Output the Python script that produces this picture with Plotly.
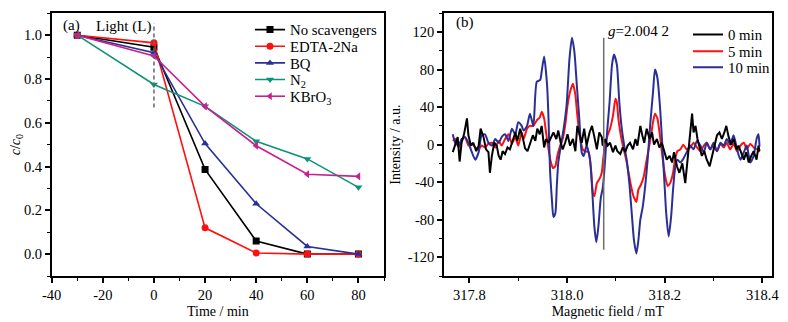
import plotly.graph_objects as go

# ---------------- Panel (a) data ----------------
time_min = [-30, 0, 20, 40, 60, 80]
no_scav = [1.0, 0.945, 0.387, 0.06, 0.0, 0.0]
edta = [1.0, 0.965, 0.12, 0.005, 0.0, 0.0]
bq = [1.0, 0.92, 0.505, 0.23, 0.035, 0.0]
n2 = [1.0, 0.775, 0.675, 0.515, 0.435, 0.305]
kbro3 = [1.0, 0.905, 0.675, 0.495, 0.365, 0.355]

time_ticks = [-40, -20, 0, 20, 40, 60, 80]
time_ticktext = ["-40", "-20", "0", "20", "40", "60", "80"]

# ---------------- Panel (b) data ----------------
field_0 = [317.766, 317.771, 317.776, 317.780, 317.784, 317.789, 317.795, 317.798, 317.803, 317.808,
           317.814, 317.819, 317.823, 317.829, 317.834, 317.839, 317.842, 317.846, 317.851, 317.856,
           317.860, 317.864, 317.868, 317.873, 317.878, 317.883, 317.889, 317.894, 317.898, 317.904,
           317.909, 317.914, 317.919, 317.924, 317.930, 317.935, 317.939, 317.944, 317.948, 317.953,
           317.957, 317.962, 317.967, 317.972, 317.978, 317.982, 317.987, 317.991, 317.996, 318.001,
           318.006, 318.012, 318.017, 318.021, 318.026, 318.030, 318.035, 318.040, 318.046, 318.051,
           318.056, 318.061, 318.066, 318.071, 318.073, 318.078, 318.083, 318.088, 318.094, 318.099,
           318.103, 318.109, 318.114, 318.119, 318.124, 318.129, 318.135, 318.140, 318.144, 318.150,
           318.154, 318.158, 318.163, 318.169, 318.174, 318.178, 318.184, 318.189, 318.194, 318.199,
           318.204, 318.210, 318.215, 318.219, 318.225, 318.230, 318.236, 318.242, 318.247, 318.251,
           318.256, 318.259, 318.263, 318.267, 318.271, 318.276, 318.281, 318.286, 318.292, 318.297,
           318.301, 318.307, 318.312, 318.317, 318.322, 318.326, 318.331, 318.336, 318.341, 318.347,
           318.351, 318.356, 318.362, 318.367, 318.372, 318.377, 318.382, 318.388, 318.392, 318.394]
int_0 = [-8, 0, 8, -18, 2, 11, 28, 10, -1, 2,
         -7, -1, 17, 8, -5, -8, -30, -12, 2, -1,
         -12, -16, -7, -10, -3, -5, 6, 13, 4, 17,
         8, -4, -7, 2, 10, 4, 17, 11, 20, -3,
         6, 2, 8, 13, 6, 15, 2, -5, 2, 11,
         -1, 6, -7, 20, 10, 2, 17, -1, 13, 20,
         8, -5, 13, 8, -1, 6, -1, 2, -8, -1,
         -7, -10, -3, -8, -1, 2, -5, 6, -1, 20,
         10, 2, 17, 6, 13, 0, 6, -3, 2, -7,
         -16, -12, -19, -8, -23, -30, -20, -41, -16, 6,
         33, 13, 20, 6, -1, -12, -7, -16, -23, -12,
         -1, 10, 13, 6, 13, 20, 8, 0, 6, -5,
         -1, -8, -16, -8, -19, -12, -7, -16, -1, -7]

field_5 = [317.766, 317.771, 317.778, 317.784, 317.791, 317.798, 317.805, 317.812, 317.819, 317.825,
           317.832, 317.839, 317.846, 317.853, 317.860, 317.866, 317.873, 317.880, 317.887, 317.894,
           317.900, 317.907, 317.911, 317.918, 317.924, 317.931, 317.938, 317.944, 317.948, 317.953,
           317.957, 317.962, 317.967, 317.971, 317.976, 317.980, 317.986, 317.991, 317.996, 318.001,
           318.006, 318.012, 318.017, 318.021, 318.027, 318.032, 318.037, 318.044, 318.049, 318.053,
           318.056, 318.061, 318.066, 318.071, 318.074, 318.078, 318.083, 318.088, 318.094, 318.099,
           318.102, 318.105, 318.110, 318.116, 318.121, 318.126, 318.131, 318.136, 318.142, 318.146,
           318.151, 318.157, 318.162, 318.167, 318.172, 318.176, 318.180, 318.185, 318.191, 318.196,
           318.201, 318.206, 318.211, 318.217, 318.221, 318.226, 318.232, 318.238, 318.245, 318.252,
           318.259, 318.266, 318.273, 318.280, 318.286, 318.293, 318.300, 318.307, 318.314, 318.321,
           318.327, 318.334, 318.341, 318.348, 318.355, 318.362, 318.368, 318.375, 318.382, 318.389,
           318.394]
int_5 = [4, 6, -3, 4, 8, -1, 1, -3, -5, -1,
         -3, 1, 2, -3, 4, -1, 6, 11, 1, 8,
         -1, 13, 6, 17, 20, 20, 26, 29, 35, 28,
         13, -5, -19, -25, -23, -12, -1, 6, 20, 42,
         56, 65, 53, 31, 6, -5, -7, -8, -26, -52,
         -55, -41, -37, -30, -15, -1, 10, 17, 31, 49,
         45, 28, 10, -5, -16, -30, -44, -55, -61, -48,
         -43, -34, -19, -5, 10, 24, 33, 28, 6, -16,
         -34, -44, -41, -30, -16, -7, -5, 0, -5, -3,
         2, -3, -7, -1, 2, -5, -1, -7, 1, -3,
         2, -5, 1, -7, -1, 2, -5, 1, -3, -5,
         -8]

field_10 = [317.766, 317.771, 317.778, 317.784, 317.791, 317.798, 317.805, 317.812, 317.819, 317.825,
            317.832, 317.839, 317.846, 317.853, 317.860, 317.866, 317.873, 317.880, 317.887, 317.894,
            317.900, 317.907, 317.911, 317.918, 317.924, 317.931, 317.938, 317.945, 317.948, 317.953,
            317.959, 317.962, 317.965, 317.969, 317.972, 317.976, 317.979, 317.982, 317.986, 317.993,
            317.999, 318.005, 318.010, 318.015, 318.020, 318.025, 318.030, 318.034, 318.040, 318.047,
            318.051, 318.056, 318.060, 318.064, 318.069, 318.073, 318.076, 318.080, 318.083, 318.087,
            318.092, 318.096, 318.102, 318.107, 318.112, 318.117, 318.122, 318.128, 318.133, 318.137,
            318.142, 318.146, 318.150, 318.155, 318.160, 318.165, 318.170, 318.176, 318.180, 318.185,
            318.191, 318.195, 318.199, 318.203, 318.208, 318.213, 318.217, 318.221, 318.226, 318.232,
            318.237, 318.245, 318.252, 318.259, 318.266, 318.273, 318.280, 318.286, 318.293, 318.300,
            318.307, 318.314, 318.321, 318.327, 318.334, 318.341, 318.348, 318.355, 318.362, 318.368,
            318.375, 318.382, 318.388, 318.392, 318.394]
int_10 = [11, 2, -1, 6, 8, 2, -8, -16, -8, 10,
          11, 2, -1, 6, 2, 8, 11, 4, 17, 11,
          24, 20, 15, 20, 33, 20, 67, 69, 78, 94,
          64, 28, -26, -59, -77, -73, -44, -19, -5, 17,
          42, 92, 114, 99, 63, 28, -8, -12, -1, -16,
          -44, -88, -104, -88, -57, -46, -30, 0, 20, 45,
          85, 96, 85, 45, 17, -1, -16, -44, -77, -102,
          -116, -102, -80, -66, -44, -16, 20, 56, 80, 71,
          35, -1, -37, -73, -98, -77, -48, -26, -16, -19,
          -16, -8, -1, -5, 4, -1, -8, 2, -5, 2,
          -7, 2, -1, 6, 0, 10, -5, -16, -8, -1,
          -19, -12, 6, 11, -2]

int_ticks = [-120, -80, -40, 0, 40, 80, 120]
int_ticktext = ["-120", "-80", "-40", "0", "40", "80", "120"]

g_field = 318.075
g_span = [-112, 114]
light_x = 0
light_span = [0.67, 1.055]

FONT = "Liberation Serif"
BLACK = "#000000"
RED = "#ff1010"
BLUE = "#2a2f96"
GREEN = "#0f9378"
MAGENTA = "#c8208e"

# Figure is placed by the page with an 8 px body margin; design in 780x314.
W, H = 780, 314

fig = go.Figure()

# Panel (a)
series_a = [
    ("No scavengers", no_scav, BLACK, "square"),
    ("EDTA-2Na", edta, RED, "circle"),
    ("BQ", bq, BLUE, "triangle-up"),
    ("N<sub>2</sub>", n2, GREEN, "triangle-down"),
    ("KBrO<sub>3</sub>", kbro3, MAGENTA, "triangle-left"),
]
legend_rows_a = [22, 38.7, 55.3, 71.9, 88.6]   # px from top (figure coords)
for i, (name, vals, col, sym) in enumerate(series_a):
    lg = "legend" if i == 0 else "legend%d" % (i + 1)
    fig.add_trace(go.Scatter(
        x=time_min, y=vals, name=name, mode="lines+markers",
        line=dict(color=col, width=1.6),
        marker=dict(symbol=sym, size=7, color=col),
        xaxis="x", yaxis="y", legend=lg))

fig.add_trace(go.Scatter(x=[light_x, light_x], y=light_span, mode="lines",
                         line=dict(color="#666666", width=1.5, dash="4px,3px"),
                         showlegend=False, hoverinfo="skip", xaxis="x", yaxis="y"))

# Panel (b)
legend_rows_b = [27, 43.7, 59.7]
fig.add_trace(go.Scatter(x=field_5, y=int_5, name="5 min", mode="lines",
                         line=dict(color=RED, width=2, shape="spline", smoothing=0.5),
                         xaxis="x2", yaxis="y2", legend="legend7"))
fig.add_trace(go.Scatter(x=field_10, y=int_10, name="10 min", mode="lines",
                         line=dict(color=BLUE, width=2, shape="spline", smoothing=0.6),
                         xaxis="x2", yaxis="y2", legend="legend8"))
fig.add_trace(go.Scatter(x=field_0, y=int_0, name="0 min", mode="lines",
                         line=dict(color=BLACK, width=2), xaxis="x2", yaxis="y2", legend="legend6"))
fig.add_trace(go.Scatter(x=[g_field, g_field], y=g_span, mode="lines",
                         line=dict(color="#6e6e6e", width=1.5),
                         showlegend=False, hoverinfo="skip", xaxis="x2", yaxis="y2"))

axis_common = dict(showline=True, linecolor="black", linewidth=1.5, mirror=True,
                   ticks="outside", ticklen=5, tickwidth=1.5, tickcolor="black",
                   showgrid=False, zeroline=False, automargin=False,
                   tickfont=dict(family=FONT, size=14.5, color="black"))

def minor(d, t0):
    return dict(ticks="outside", ticklen=3, tickmode="linear", tick0=t0, dtick=d,
                tickcolor="black", tickwidth=1.2, showgrid=False)

ydom = [1 - 268 / H, 1 - 5.3 / H]
TITLE_FONT = dict(family=FONT, size=14)
NOTE_FONT = dict(family=FONT, size=15)

layout = dict(
    template="none",
    width=W, height=H,
    margin=dict(l=0, r=0, t=0, b=0, autoexpand=False),
    paper_bgcolor="white", plot_bgcolor="white",
    font=dict(family=FONT, size=14, color="black"),
    xaxis=dict(domain=[43.7 / W, 376 / W], range=[-40, 90], tickmode="array",
               tickvals=time_ticks, ticktext=time_ticktext, minor=minor(10, -40),
               title=dict(text="Time / min", font=TITLE_FONT, standoff=4),
               anchor="y", **axis_common),
    yaxis=dict(domain=ydom, range=[-0.1, 1.1], tick0=0, dtick=0.2, tickformat=".1f",
               minor=minor(0.1, 0),
               title=dict(text="<i>c</i>/<i>c</i><sub>0</sub>", font=TITLE_FONT, standoff=2),
               anchor="x", **axis_common),
    xaxis2=dict(domain=[436 / W, 763.7 / W], range=[317.748, 318.419], tick0=317.8, dtick=0.2,
                tickformat=".1f", minor=minor(0.1, 317.8),
                title=dict(text="Magnetic field / mT", font=TITLE_FONT, standoff=4),
                anchor="y2", **axis_common),
    yaxis2=dict(domain=ydom, range=[-140, 140], tickmode="array", tickvals=int_ticks,
                ticktext=int_ticktext, minor=minor(20, 0),
                title=dict(text="Intensity / a.u.", font=TITLE_FONT, standoff=4),
                anchor="x2", **axis_common),
    showlegend=True,
)

legend_style = dict(xanchor="left", yanchor="middle", bgcolor="rgba(0,0,0,0)",
                    borderwidth=0, font=dict(family=FONT, size=14.8), itemwidth=30)
for i, row in enumerate(legend_rows_a):
    key = "legend" if i == 0 else "legend%d" % (i + 1)
    layout[key] = dict(x=(247 - 5) / W, y=1 - row / H, **legend_style)
for j, row in enumerate(legend_rows_b):
    key = "legend%d" % (j + 6)
    layout[key] = dict(x=(685 - 5) / W, y=1 - row / H, **legend_style)

fig.update_layout(**layout)

fig.add_annotation(x=-36.5, y=1.046, xref="x", yref="y", text="(a)", showarrow=False,
                   xanchor="left", yanchor="middle", font=NOTE_FONT)
fig.add_annotation(x=-11.8, y=1.041, xref="x", yref="y", text="Light (L)", showarrow=False,
                   xanchor="center", yanchor="middle", font=NOTE_FONT)
fig.add_annotation(x=317.768, y=130, xref="x2", yref="y2", text="(b)", showarrow=False,
                   xanchor="left", yanchor="middle", font=NOTE_FONT)
fig.add_annotation(x=318.080, y=121.5, xref="x2", yref="y2", text="<i>g</i>=2.004 2", showarrow=False,
                   xanchor="left", yanchor="middle", font=NOTE_FONT)

fig.write_html("out.html")
